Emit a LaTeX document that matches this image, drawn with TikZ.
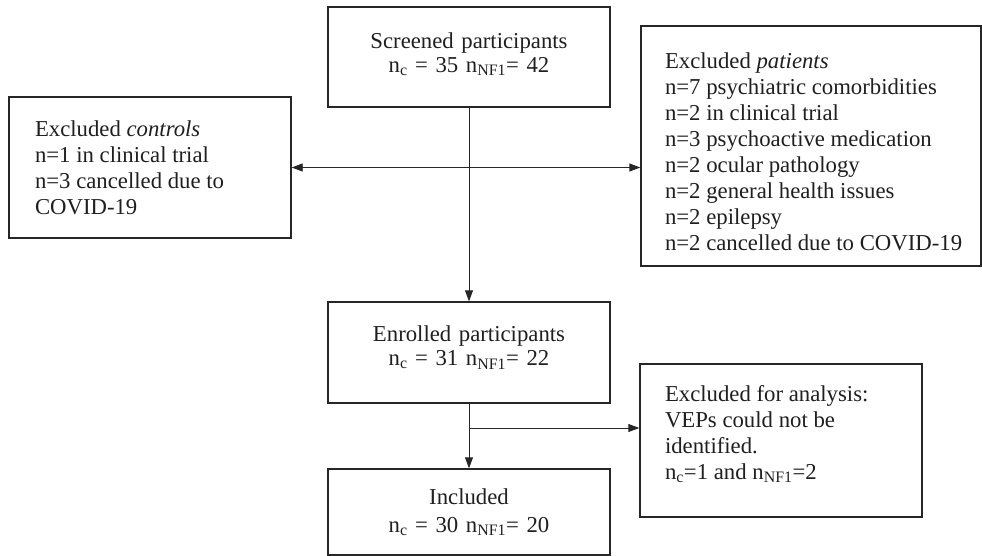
\documentclass[tikz,border=0pt]{standalone}
\usepackage{fontspec}
\setmainfont{Liberation Serif}
\usetikzlibrary{arrows.meta}
\newcommand{\sbs}[1]{\textsubscript{#1}}
\tikzset{
  box/.style={draw=black!85, line width=1.4pt, inner ysep=0pt, text=black!88,
    font=\fontsize{22.75}{26}\selectfont, minimum height=#1},
  cbox/.style={box=#1, minimum width=282pt, inner xsep=6pt, text width=270pt, align=center},
  lbox/.style={box=#1, align=flush left},
  conn/.style={draw=black!85, line width=0.9pt, -{Triangle[length=11pt,width=8pt]}},
  conn2/.style={draw=black!85, line width=0.9pt, {Triangle[length=11pt,width=8pt]}-{Triangle[length=11pt,width=8pt]}}
}
\begin{document}
\begin{tikzpicture}[x=1pt,y=-1pt]
\useasboundingbox (0,0) rectangle (982,556);
\node[cbox=100pt] (screen) at (469,57) {Screened participants\\[-2pt]n\sbs{c} = 35 n\sbs{NF1}= 42\par\vspace*{6pt}};
\node[lbox=141pt, inner xsep=26pt, text width=230pt] (ctrl) at (150,167.5)
  {Excluded \textit{controls}\\n=1 in clinical trial\\n=3 cancelled due to\\COVID-19};
\node[lbox=240pt, inner xsep=24pt, text width=292pt] (pat) at (811,146)
  {Excluded \textit{patients}\\n=7 psychiatric comorbidities\\n=2 in clinical trial\\n=3 psychoactive medication\\n=2 ocular pathology\\n=2 general health issues\\n=2 epilepsy\\\mbox{n=2 cancelled due to COVID-19}\par\vspace*{-12pt}};
\node[cbox=101pt] (enr) at (469,352.5) {Enrolled participants\\[-2pt]n\sbs{c} = 31 n\sbs{NF1}= 22\par\vspace*{10pt}};
\node[lbox=153pt, inner xsep=25pt, text width=232pt] (ana) at (781,440.5)
  {Excluded for analysis:\\VEPs could not be\\identified.\\n\sbs{c}=1 and n\sbs{NF1}=2\par\vspace*{13pt}};
\node[cbox=86pt] (inc) at (469,512) {Included\\[2pt]n\sbs{c} = 30 n\sbs{NF1}= 20};
\draw[conn] (screen.south) -- (enr.north);
\draw[conn2] (ctrl.east) -- (ctrl.east -| pat.west);
\draw[conn] (enr.south) -- (inc.north);
\coordinate (br) at (469,428);
\draw[conn] (br) -- (br -| ana.west);
\end{tikzpicture}
\end{document}
